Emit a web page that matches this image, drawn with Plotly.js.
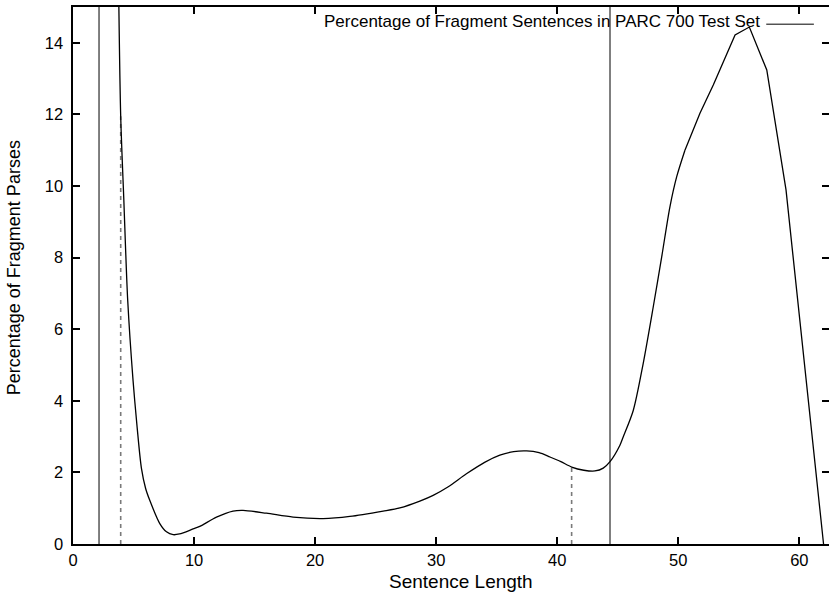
<!DOCTYPE html>
<html>
<head>
<meta charset="utf-8">
<script src="https://cdn.plot.ly/plotly-3.0.1.min.js"></script>
<style>
html,body{margin:0;padding:0;background:#fff;}
#chart{width:829px;height:596px;}
</style>
</head>
<body>
<div id="chart"></div>
<script>
// Curve: percentage of fragment parses by sentence length
var sentenceLength = [3.75, 3.94, 4.2, 4.52, 4.96, 5.3, 5.65, 6.0, 6.34, 7.17, 7.72, 8.27, 8.8, 9.92, 10.47, 11.85, 13.22, 14.05, 15.98, 18.18, 20.66, 22.87, 25.62, 27.0, 28.65, 29.75, 31.0, 32.5, 34.0, 35.26, 36.4, 37.47, 38.5, 39.4, 40.3, 41.19, 42.2, 43.12, 43.8, 44.36, 45.18, 45.45, 46.28, 47.1, 47.93, 48.63, 49.31, 49.87, 50.55, 51.79, 52.9, 54.69, 55.87, 57.31, 58.9, 62.0];
var fragmentPct = [16, 11.95, 9.6, 6.8, 4.57, 3.25, 2.12, 1.55, 1.22, 0.57, 0.34, 0.26, 0.28, 0.42, 0.49, 0.75, 0.92, 0.94, 0.86, 0.75, 0.71, 0.77, 0.92, 1.01, 1.2, 1.36, 1.6, 1.96, 2.28, 2.48, 2.58, 2.6, 2.55, 2.43, 2.3, 2.15, 2.06, 2.04, 2.12, 2.3, 2.76, 2.99, 3.73, 5.04, 6.62, 8.02, 9.42, 10.26, 11.0, 12.03, 12.83, 14.22, 14.44, 13.24, 9.89, 0];
// the curve is smooth up to this length and piecewise straight after it
var smoothUntil = 50.55;

// Reference vertical lines
var solidLineX = [2.15, 44.36];
var dashedLineX = [3.94, 41.19];
var dashedLineTop = [11.95, 2.15];

var xTicks = [0, 10, 20, 30, 40, 50, 60];
var yTicks = [0, 2, 4, 6, 8, 10, 12, 14];
var xRange = [0, 62.45];
var yRange = [0, 15];

var legendText = 'Percentage of Fragment Sentences in PARC 700 Test Set';
var xTitle = 'Sentence Length';
var yTitle = 'Percentage of Fragment Parses';

var traces = [];
solidLineX.forEach(function (x) {
  traces.push({x: [x, x], y: yRange, mode: 'lines', line: {color: '#000', width: 1}, showlegend: false, hoverinfo: 'skip'});
});
dashedLineX.forEach(function (x, i) {
  traces.push({x: [x, x], y: [0, dashedLineTop[i]], mode: 'lines', line: {color: '#7a7a7a', width: 1.6, dash: '4px,4px'}, showlegend: false, hoverinfo: 'skip'});
});
var split = sentenceLength.indexOf(smoothUntil);
traces.push({x: sentenceLength.slice(0, split + 1), y: fragmentPct.slice(0, split + 1), mode: 'lines',
  line: {color: '#000', width: 1.3, shape: 'spline', smoothing: 0.8}, showlegend: false});
traces.push({x: sentenceLength.slice(split), y: fragmentPct.slice(split), mode: 'lines',
  line: {color: '#000', width: 1.3}, showlegend: false});

var fam = 'Liberation Sans, Arial, sans-serif';

var layout = {
  width: 829, height: 596,
  margin: {l: 73, r: 0, t: 7, b: 52},
  paper_bgcolor: '#fff', plot_bgcolor: '#fff',
  font: {family: fam, size: 17, color: '#000'},
  showlegend: false,
  xaxis: {
    range: xRange, tickvals: xTicks, ticktext: xTicks.map(String),
    ticks: 'inside', ticklen: 7, tickwidth: 2, tickcolor: '#000',
    showline: true, linecolor: '#000', linewidth: 2, mirror: 'ticks',
    showgrid: false, zeroline: false,
    tickfont: {family: fam, size: 16.5, color: '#000'}
  },
  yaxis: {
    range: yRange, tickvals: yTicks, ticktext: yTicks.map(function (v) { return v + '\u00a0'; }),
    ticks: 'inside', ticklen: 7, tickwidth: 2, tickcolor: '#000',
    showline: true, linecolor: '#000', linewidth: 2, mirror: 'ticks',
    showgrid: false, zeroline: false,
    tickfont: {family: fam, size: 16.5, color: '#000'}
  },
  annotations: [{
    xref: 'paper', yref: 'paper', x: 0.912, y: 0.973, xanchor: 'right', yanchor: 'middle',
    text: legendText, showarrow: false, font: {family: fam, size: 17, color: '#000'}
  }, {
    xref: 'paper', yref: 'paper', x: 0.513, y: -0.069, xanchor: 'center', yanchor: 'middle',
    text: xTitle, showarrow: false, font: {family: fam, size: 19, color: '#000'}
  }, {
    xref: 'paper', yref: 'paper', x: -0.077, y: 0.515, xanchor: 'center', yanchor: 'middle', textangle: -90,
    text: yTitle, showarrow: false, font: {family: fam, size: 18, color: '#000'}
  }],
  shapes: [{
    type: 'line', xref: 'paper', yref: 'paper', x0: 0.917, x1: 0.980, y0: 0.968, y1: 0.968,
    line: {color: '#000', width: 1}
  }]
};

Plotly.newPlot('chart', traces, layout, {displayModeBar: false, staticPlot: true});
</script>
</body>
</html>
